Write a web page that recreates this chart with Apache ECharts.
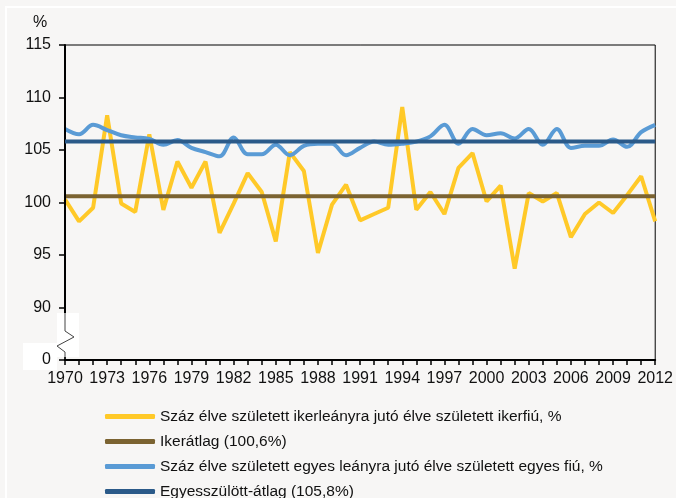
<!DOCTYPE html>
<html>
<head>
<meta charset="utf-8">
<script src="https://cdn.jsdelivr.net/npm/echarts@6/dist/echarts.min.js"></script>
<style>
html,body{margin:0;padding:0;background:#f7f6f5;}
#chart{width:676px;height:498px;}
</style>
</head>
<body>
<div id="chart"></div>
<script>
var years = [];
for (var y = 1970; y <= 2012; y++) years.push(String(y));

var twinRatio = [100.3, 98.2, 99.5, 108.3, 99.9, 99.1, 106.5, 99.3, 103.9, 101.4,
  103.9, 97.1, 99.9, 102.8, 101.0, 96.3, 104.8, 103.0, 95.2, 99.8,
  101.7, 98.3, 98.9, 99.5, 109.1, 99.3, 101.0, 98.9, 103.3, 104.7,
  100.1, 101.6, 93.7, 100.9, 100.1, 100.9, 96.7, 98.9, 100.0, 99.0,
  100.7, 102.5, 98.2];

var singleRatio = [107.0, 106.5, 107.4, 106.9, 106.4, 106.2, 106.05, 105.5, 105.95, 105.2,
  104.8, 104.4, 106.2, 104.6, 104.6, 105.5, 104.5, 105.4, 105.6, 105.6,
  104.5, 105.2, 105.8, 105.5, 105.6, 105.8, 106.3, 107.4, 105.6, 107.0,
  106.4, 106.6, 106.1, 107.0, 105.5, 107.0, 105.2, 105.4, 105.4, 106.0,
  105.3, 106.7, 107.4];

var twinAvgValue = 100.6;
var singleAvgValue = 105.8;
var twinAvg = years.map(function(){ return twinAvgValue; });
var singleAvg = years.map(function(){ return singleAvgValue; });

var yTicks = {85: '0', 90: '90', 95: '95', 100: '100', 105: '105', 110: '110', 115: '115'};

var names = [
  'Száz élve született ikerleányra jutó élve született ikerfiú, %',
  'Ikerátlag (100,6%)',
  'Száz élve született egyes leányra jutó élve született egyes fiú, %',
  'Egyesszülött-átlag (105,8%)'
];

var chart = echarts.init(document.getElementById('chart'), null, {renderer: 'canvas'});
var font = 'Liberation Sans, Arial, sans-serif';

chart.setOption({
  backgroundColor: '#f7f6f5',
  animation: false,
  textStyle: {fontFamily: font},
  grid: {left: 65, right: 19, top: 45, bottom: 138, show: true, borderColor: '#000', borderWidth: 1, backgroundColor: 'transparent'},
  legend: {
    orient: 'vertical',
    left: 100, top: 403, height: 100, width: 560,
    itemWidth: 50, itemHeight: 5, itemGap: 8,
    icon: 'roundRect',
    textStyle: {fontSize: 15.5, color: '#111', lineHeight: 17, fontFamily: font},
    data: names
  },
  xAxis: {
    type: 'category',
    data: years,
    boundaryGap: false,
    axisLine: {lineStyle: {color: '#000', width: 2}},
    axisTick: {show: true, interval: 0, length: 5, lineStyle: {color: '#000', width: 1.5}},
    axisLabel: {interval: 2, fontSize: 16, color: '#111', margin: 11, fontFamily: font},
    splitLine: {show: false}
  },
  yAxis: {
    type: 'value',
    min: 85, max: 115, interval: 5,
    z: 5,
    name: '%',
    nameLocation: 'end',
    nameGap: 14,
    nameTextStyle: {fontSize: 16, color: '#111', align: 'center', padding: [0, 50, 0, 0], fontFamily: font},
    axisLine: {show: true, lineStyle: {color: '#000', width: 2}},
    axisTick: {show: true, length: 6, lineStyle: {color: '#000', width: 1.5}},
    axisLabel: {fontSize: 16, color: '#111', margin: 14, fontFamily: font,
      formatter: function(v){ return yTicks[v] !== undefined ? yTicks[v] : ''; }},
    splitLine: {show: false}
  },
  series: [
    {name: names[0], type: 'line', data: twinRatio, symbol: 'none', z: 2,
      itemStyle: {color: '#FFC928'}, lineStyle: {color: '#FFC928', width: 4}},
    {name: names[1], type: 'line', data: twinAvg, symbol: 'none', z: 3,
      itemStyle: {color: '#7B6331'}, lineStyle: {color: '#7B6331', width: 4}},
    {name: names[2], type: 'line', data: singleRatio, symbol: 'none', smooth: 0.35, z: 4,
      itemStyle: {color: '#5A9BD5'}, lineStyle: {color: '#5A9BD5', width: 4}},
    {name: names[3], type: 'line', data: singleAvg, symbol: 'none', z: 5,
      itemStyle: {color: '#2B5A89'}, lineStyle: {color: '#2B5A89', width: 4}}
  ],
  graphic: [
    {type: 'rect', z: 1, shape: {x: 6, y: 7, width: 720, height: 600}, style: {fill: 'none', stroke: '#ffffff', lineWidth: 2}},
    {type: 'rect', z: 1, shape: {x: 23, y: 343, width: 34, height: 27}, style: {fill: '#ffffff'}},
    {type: 'rect', z: 20, shape: {x: 57, y: 313, width: 22, height: 44}, style: {fill: '#ffffff'}},
    {type: 'polyline', z: 21, shape: {points: [[65, 313], [65, 331], [74, 337], [57, 346], [65, 352], [65, 359]]},
      style: {fill: 'none', stroke: '#444', lineWidth: 1}}
  ]
});
</script>
</body>
</html>
